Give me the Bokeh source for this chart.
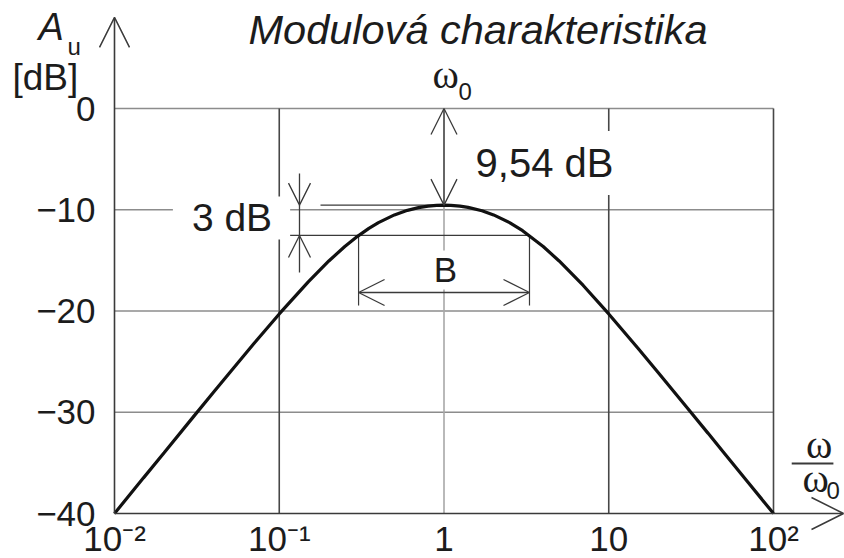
from bokeh.plotting import figure
from bokeh.models import Range1d, FixedTicker, Label, Arrow, OpenHead
from bokeh.embed import file_html
from bokeh.resources import INLINE

# Normalised frequency ω/ω0 and the magnitude response A_u in dB
ratio = [0.01, 0.015, 0.02, 0.03, 0.04, 0.05, 0.07, 0.1,
         0.15, 0.2, 0.25, 0.3, 0.35, 0.4, 0.5, 0.6, 0.7, 0.8, 0.9,
         1.0,
         1.1, 1.25, 1.4, 1.7, 2.0, 2.5, 3.0, 4.0, 5.0, 7.0,
         10.0, 15.0, 20.0, 30.0, 40.0, 50.0, 70.0, 100.0]
gain_db = [-40.00, -36.48, -33.99, -30.48, -28.01, -26.10, -23.24, -20.29,
           -17.12, -15.06, -13.63, -12.60, -11.84, -11.27, -10.51, -10.06, -9.79, -9.64, -9.56,
           -9.54,
           -9.56, -9.64, -9.76, -10.10, -10.51, -11.27, -12.07, -13.63, -15.06, -17.48,
           -20.29, -23.65, -26.10, -29.58, -32.06, -33.99, -36.91, -40.00]

# Axis ticks and their labels
x_ticks = [0.01, 0.1, 1, 10, 100]
x_tick_labels = ["10\u207b\u00b2", "10\u207b\u00b9", "1", "10", "10\u00b2"]
y_ticks = [0, -10, -20, -30, -40]
y_tick_labels = ["0", "\u221210", "\u221220", "\u221230", "\u221240"]

# Resonance and bandwidth
peak_db = -9.54          # maximum gain at ω = ω0
drop_db = 3.0            # bandwidth is measured 3 dB below the maximum
band_lo, band_hi = 0.303, 3.303

INK = "#1c1c1c"
LINE = "#3a3a3a"
GRID = "#8c8c8c"
SANS = "Liberation Sans"
SERIF = "Liberation Serif"

# the frame fills the whole page; the axes are pinned inside it
p = figure(width=844, height=558, x_axis_type="log",
           x_range=Range1d(10 ** -2.69196, 10 ** 2.43096),
           y_range=Range1d(-44.444, 10.667),
           min_border=0, min_border_left=0, min_border_right=0,
           min_border_top=0, min_border_bottom=0,
           output_backend="svg", toolbar_location=None)
p.outline_line_color = None
p.grid.visible = False
p.background_fill_color = "white"
p.border_fill_color = "white"

x_lo, x_hi = x_ticks[0], x_ticks[-1]
y_lo, y_hi = y_ticks[-1], y_ticks[0]

for ax in (p.xaxis[0], p.yaxis[0]):
    ax.axis_line_color = None
    ax.major_tick_line_color = None
    ax.minor_tick_line_color = None
    ax.major_label_text_font = SANS
    ax.major_label_text_color = INK

p.xaxis.fixed_location = y_lo
p.xaxis.ticker = FixedTicker(ticks=x_ticks)
p.xaxis.major_label_overrides = dict(zip(x_ticks, x_tick_labels))
p.xaxis.major_label_text_font_size = "35px"
p.xaxis.major_label_standoff = -1

p.yaxis.fixed_location = x_lo
p.yaxis.ticker = FixedTicker(ticks=y_ticks)
p.yaxis.major_label_overrides = dict(zip(y_ticks, y_tick_labels))
p.yaxis.major_label_text_font_size = "35px"
p.yaxis.major_label_standoff = 13

# grid, bounded by the plotted decades
p.segment(x0=[x_lo] * 4, y0=y_ticks[:-1], x1=[x_hi] * 4, y1=y_ticks[:-1],
          line_color=GRID, line_width=1.6)
p.segment(x0=[0.1, 10, 100], y0=[y_lo] * 3, x1=[0.1, 10, 100], y1=[y_hi] * 3,
          line_color="#474747", line_width=1.6)
p.segment(x0=[1], y0=[y_lo], x1=[1], y1=[y_hi],
          line_color="#a8a8a8", line_width=1.6)

# auxiliary lines for the 3 dB bandwidth
level = peak_db - drop_db
p.segment(x0=[0.178], y0=[peak_db], x1=[1], y1=[peak_db], line_color=LINE, line_width=1.2)
p.segment(x0=[0.1154], y0=[level], x1=[band_hi], y1=[level], line_color=LINE, line_width=1.2)
p.segment(x0=[band_lo, band_hi], y0=[level, level], x1=[band_lo, band_hi], y1=[-19.46, -19.46],
          line_color=LINE, line_width=1.2)

# magnitude curve
p.line(ratio, gain_db, line_color="#111111", line_width=3.2)

# axis arrows
p.add_layout(Arrow(x_start=x_lo, y_start=y_lo, x_end=x_lo, y_end=9.0,
                   end=OpenHead(size=30, line_color=LINE, line_width=1.5),
                   line_color=LINE, line_width=1.6))
p.add_layout(Arrow(x_start=x_lo, y_start=y_lo, x_end=266, y_end=y_lo,
                   end=OpenHead(size=32, line_color=LINE, line_width=1.5),
                   line_color=LINE, line_width=1.6))

# 9,54 dB dimension
p.add_layout(Arrow(x_start=1, y_start=0, x_end=1, y_end=peak_db,
                   start=OpenHead(size=26, line_color=LINE, line_width=1.3),
                   end=OpenHead(size=26, line_color=LINE, line_width=1.3),
                   line_color=LINE, line_width=1.3))
# bandwidth B
p.add_layout(Arrow(x_start=band_lo, y_start=-18.17, x_end=band_hi, y_end=-18.17,
                   start=OpenHead(size=26, line_color=LINE, line_width=1.3),
                   end=OpenHead(size=26, line_color=LINE, line_width=1.3),
                   line_color=LINE, line_width=1.3))
# 3 dB dimension, arrows pointing at the two levels from outside
x3 = 0.1327
p.add_layout(Arrow(x_start=x3, y_start=-6.42, x_end=x3, y_end=peak_db,
                   end=OpenHead(size=22, line_color=LINE, line_width=1.3),
                   line_color=LINE, line_width=1.3))
p.add_layout(Arrow(x_start=x3, y_start=-16.2, x_end=x3, y_end=level,
                   end=OpenHead(size=22, line_color=LINE, line_width=1.3),
                   line_color=LINE, line_width=1.3))
p.segment(x0=[x3], y0=[peak_db], x1=[x3], y1=[level], line_color=LINE, line_width=1.3)


def label(x, y, text, size, font=SANS, style="normal", align="left"):
    lab = Label(x=x, y=y, text=text, text_font=font, text_font_size=size,
                text_font_style=style, text_color=INK, text_align=align,
                text_baseline="middle")
    p.add_layout(lab)
    return lab


label(0.0651, 7.852, "Modulová charakteristika", "41.5px", style="italic")
label(0.00346, 8.049, "A", "38px", style="italic")
label(0.00518, 6.123, "u", "24px")
label(0.0024, 3.111, "[dB]", "37px")
label(0.851, 3.388, "\u03c9", "40px", font=SERIF)
label(1.225, 1.728, "0", "24px")

# value labels on white boxes that interrupt the grid behind them
boxed = [
    (4.074, -5.38, "9,54 dB", "40px", dict(left=10, right=10, top=10, bottom=10)),
    (0.05132, -10.81, "3 dB", "39px", dict(left=19, right=18, top=0, bottom=0)),
    (1.021, -15.95, "B", "35px", dict(left=5, right=5, top=0, bottom=0)),
]
for bx, by, btext, bsize, bpad in boxed:
    lab = label(bx, by, btext, bsize, align="center")
    lab.background_fill_color = "white"
    lab.padding = bpad

# axis quantity ω/ω0
label(189, -33.19, "\u03c9", "40px", font=SERIF, align="center")
p.segment(x0=[129], y0=[-35.06], x1=[231], y1=[-35.06], line_color=LINE, line_width=2)
label(180, -36.59, "\u03c9", "40px", font=SERIF, align="center")
label(209.7, -37.68, "0", "24px")

open("out.html", "w").write(file_html(p, INLINE))
